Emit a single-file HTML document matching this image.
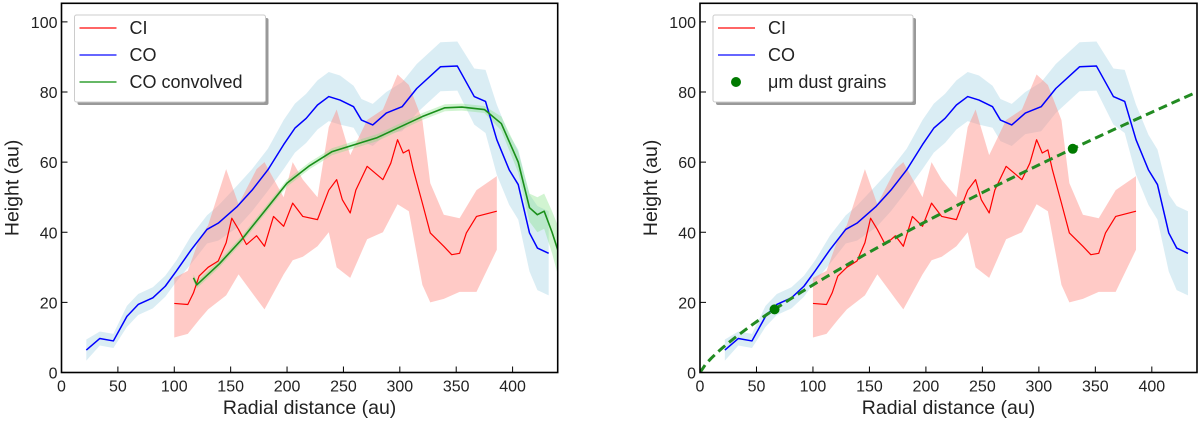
<!DOCTYPE html>
<html><head><meta charset="utf-8"><style>
body{margin:0;background:#fff;}
svg{font-family:"Liberation Sans","DejaVu Sans",sans-serif;}
</style></head><body>
<svg id="fig" width="1200" height="421" viewBox="0 0 1200 421"></svg>
<script>
const coX=[22,34,46,58,68,81,92,102,115,129,139,156,169,183,197,207,217,227,237,247,259,266,276,288,302,315,336,351,366,376,386,397,405,415,422,432];
const coY=[6.4,9.7,9,16,19.4,21.3,24.6,29,35,40.8,42.6,47.4,52,57.8,65,69.7,72.5,76.3,78.7,77.7,75.8,72,70.6,74,75.8,81,87.2,87.4,78.7,77.3,66.4,57.8,53.6,39.8,35.5,34];
const coErr=[3,2,2,3,3,3,3,3,4,4,5,6,6,6,7,7,7,7,7,7,6,6,6,6,7,7,7,7,8,9,10,10,10,11,12,12];
const ciX=[100,112,117,122,130,139,146,151,157,164,173,180,188,197,205,214,227,237,244,249,256,261,271,285,292,298,303,308,312,320,327,339,346,353,359,368,386];
const ciY=[19.7,19.4,22.7,27.5,30,31.8,37,44,40.8,36.5,39,36,44.5,41.7,48.3,44.5,43.6,52,55,49.3,45.5,52,58.8,55,59.7,66.4,62.6,63.5,57.8,48.3,39.8,36,33.6,34,39.8,44.5,46];
const ciBandX=[100,112,122,130,146,157,173,180,197,205,214,227,237,244,256,271,285,298,308,320,327,339,353,368,386];
const ciLo=[10,11,15,18,22,28,21,18,28,32,33,36,40,30,27,38,40,48,46,25,20,21,23,23,35];
const ciHi=[27,29,38,42,58,48,58,60,50,60,55,50,70,75,62,72,75,85,82,72,54,45,44,52,56];
const convX=[117,120,140,160,180,200,220,240,260,280,300,320,340,355,375,390,405,415,422,428,435,440];
const convY=[27,25,31,38,46,54,59,63,65,67,70,73,75.5,75.7,75,71,60,47,45,46,40,35];
const convErr=[1,1,1,1,1,1,1,1,1,1,1,1,1,1,1,2,3,4,5,5,6,7];
const dustX=[66,330];
const dustY=[18,63.8];
const fitA=0.669, fitB=0.786;
const xTicks=[0,50,100,150,200,250,300,350,400];
const yTicks=[0,20,40,60,80,100];

const NS="http://www.w3.org/2000/svg";
const svg=document.getElementById('fig');
function mk(tag,attrs,parent){const e=document.createElementNS(NS,tag);for(const k in attrs)e.setAttribute(k,attrs[k]);(parent||svg).appendChild(e);return e;}

function panel(left,right,idx){
  const top=3.3,bottom=372.5;
  const X=v=>left+(v/440)*(right-left);
  const Y=v=>bottom-(v/105.3)*(bottom-top);
  const g=mk('g',{});
  
  
  const clipId='clip'+idx;
  const cp=mk('clipPath',{id:clipId},g);mk('rect',{x:left,y:top,width:right-left,height:bottom-top},cp);
  const pg=mk('g',{'clip-path':'url(#'+clipId+')'},g);
  function band(xs,lo,hi,fill,op,name){
    let d='M'+xs.map((x,i)=>X(x)+','+Y(lo[i])).join(' L');
    d+=' L'+xs.map((x,i)=>X(x)+','+Y(hi[i])).reverse().join(' L')+'Z';
    const p=mk('path',{d:d,fill:fill,'fill-opacity':op,stroke:'none'},pg);
    
    
  }
  function line(xs,ys,col,w,name,dash){
    const p=mk('path',{d:'M'+xs.map((x,i)=>X(x)+','+Y(ys[i])).join(' L'),fill:'none',stroke:col,'stroke-width':w,'stroke-linejoin':'round'},pg);
    if(dash)p.setAttribute('stroke-dasharray',dash);
    
    
  }
  band(coX,coY.map((v,i)=>v-coErr[i]),coY.map((v,i)=>v+coErr[i]),'#add8e6',0.45,'co-band');
  band(ciBandX,ciLo,ciHi,'#ff8a80',0.45,'ci-band');
  if(idx===1) band(convX,convY.map((v,i)=>v-convErr[i]),convY.map((v,i)=>v+convErr[i]),'#7be07b',0.35,'co-convolved-band');
  line(coX,coY,'#0000ff',1.5,'co-line');
  line(ciX,ciY,'#ff0000',1.2,'ci-line');
  if(idx===1) line(convX,convY,'#1a8f1a',1.6,'co-convolved-line');
  if(idx===2){
    const fx=[],fy=[];for(let x=0;x<=440;x+=5){fx.push(x);fy.push(fitA*Math.pow(x,fitB));}
    line(fx,fy,'#228b22',3,'dust-fit-line','9,5');
    dustX.forEach((x,i)=>{const c=mk('circle',{cx:X(x),cy:Y(dustY[i]),r:5,fill:'#007a00'},pg);
      
      });
  }
  const fr=mk('rect',{x:left,y:top,width:right-left,height:bottom-top,fill:'none',stroke:'#000','stroke-width':1.6},g);
  
  
  xTicks.forEach(t=>{mk('line',{x1:X(t),x2:X(t),y1:bottom,y2:bottom-6,stroke:'#000'},g);
    const tx=mk('text',{x:X(t),y:bottom+19,'font-size':16,'text-anchor':'middle',fill:'#222'},g);tx.textContent=t;
    
    });
  yTicks.forEach(t=>{mk('line',{x1:left,x2:left+6,y1:Y(t),y2:Y(t),stroke:'#000'},g);
    const tx=mk('text',{x:left-4,y:Y(t)+6,'font-size':16,'text-anchor':'end',fill:'#222'},g);tx.textContent=t;
    
    });
  const xl=mk('text',{x:(left+right)/2,y:414,'font-size':19.5,'text-anchor':'middle',fill:'#222'},g);xl.textContent='Radial distance (au)';
  
  
  const yl=mk('text',{x:0,y:0,'font-size':19.5,'text-anchor':'middle',fill:'#222',transform:'translate('+(left-43)+','+(top+bottom)/2+') rotate(-90)'},g);yl.textContent='Height (au)';
  
  
  const lx=left+13,ly=15,lw=idx===1?191:200,lh=87;
  const lg=mk('g',{},g);
  
  
  mk('rect',{x:lx+3,y:ly+3,width:lw,height:lh,fill:'#999',rx:2},lg);
  mk('rect',{x:lx,y:ly,width:lw,height:lh,fill:'#fff',stroke:'#ccc',rx:2},lg);
  const items=idx===1?[['CI','#ff3333','l'],['CO','#3333ff','l'],['CO convolved','#33a033','l']]:[['CI','#ff3333','l'],['CO','#3333ff','l'],['μm dust grains','#007a00','d']];
  items.forEach((it,i)=>{const yy=ly+13+i*27;
    const e=mk('g',{},lg);
    
    
    if(it[2]==='l')mk('line',{x1:lx+5,x2:lx+42,y1:yy,y2:yy,stroke:it[1],'stroke-width':1.6},e);
    else mk('circle',{cx:lx+23,cy:yy,r:5,fill:it[1]},e);
    const t=mk('text',{x:lx+55,y:yy+6,'font-size':18,fill:'#222'},e);t.textContent=it[0];});
}
panel(61.5,557.7,1);
panel(700,1197,2);
</script>
</body></html>
